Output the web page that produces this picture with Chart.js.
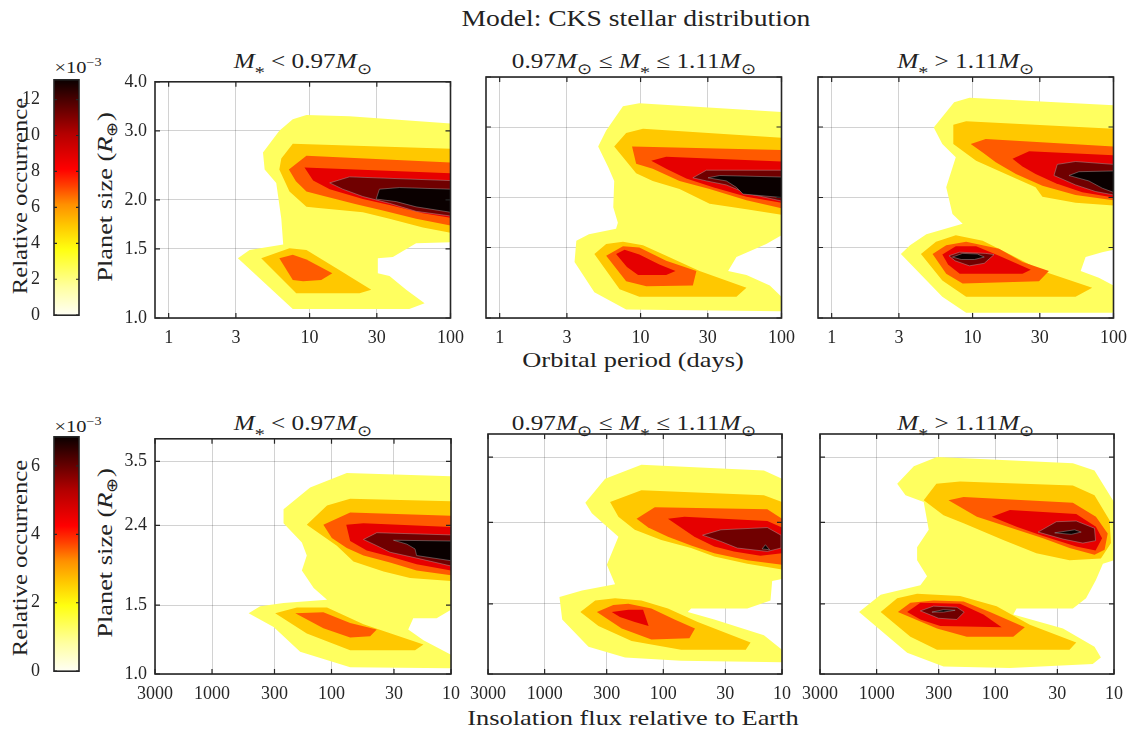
<!DOCTYPE html>
<html>
<head>
<meta charset="utf-8">
<script src="https://cdn.jsdelivr.net/npm/chart.js@4.4.0/dist/chart.umd.min.js"></script>
<style>
  body { margin: 0; background: #fff; }
  #fig { position: relative; width: 1135px; height: 732px; overflow: hidden; font-family: 'Liberation Serif', serif; color: #222; }
  #fig canvas { position: absolute; }
  .lbl { position: absolute; white-space: nowrap; line-height: 1; transform: translate(-50%, -50%) scaleX(1.2); }
  .lbl.rot { transform: translate(-50%, -50%) rotate(-90deg) scaleX(1.2); }
  .lbl.rot.narrow { transform: translate(-50%, -50%) rotate(-90deg) scaleX(1.12); }
  .lbl sub { font-size: 70%; vertical-align: -0.35em; line-height: 0; }
  .lbl sub.star { font-size: 80%; vertical-align: -0.55em; }
  .lbl sup { font-size: 70%; vertical-align: 0.55em; line-height: 0; }
</style>
</head>
<body>
<div id="fig">
  <div class="lbl" style="left:636px;top:18px;font-size:23px">Model: CKS stellar distribution</div>

  <div class="lbl" style="left:303px;top:62px;font-size:21px"><i>M</i><sub class="star">*</sub> &lt; 0.97<i>M</i><sub>⊙</sub></div>
  <div class="lbl" style="left:634px;top:62px;font-size:21px">0.97<i>M</i><sub>⊙</sub> ≤ <i>M</i><sub class="star">*</sub> ≤ 1.11<i>M</i><sub>⊙</sub></div>
  <div class="lbl" style="left:966px;top:62px;font-size:21px"><i>M</i><sub class="star">*</sub> &gt; 1.11<i>M</i><sub>⊙</sub></div>
  <div class="lbl" style="left:633px;top:360px;font-size:22px">Orbital period (days)</div>

  <div class="lbl" style="left:303px;top:424px;font-size:21px"><i>M</i><sub class="star">*</sub> &lt; 0.97<i>M</i><sub>⊙</sub></div>
  <div class="lbl" style="left:634px;top:424px;font-size:21px">0.97<i>M</i><sub>⊙</sub> ≤ <i>M</i><sub class="star">*</sub> ≤ 1.11<i>M</i><sub>⊙</sub></div>
  <div class="lbl" style="left:966px;top:424px;font-size:21px"><i>M</i><sub class="star">*</sub> &gt; 1.11<i>M</i><sub>⊙</sub></div>
  <div class="lbl" style="left:633px;top:718px;font-size:22px">Insolation flux relative to Earth</div>

  <div class="lbl rot narrow" style="left:20px;top:196px;font-size:22px">Relative occurrence</div>
  <div class="lbl rot narrow" style="left:20px;top:558px;font-size:22px">Relative occurrence</div>
  <div class="lbl rot" style="left:105px;top:197px;font-size:22px">Planet size (<i>R</i><sub>⊕</sub>)</div>
  <div class="lbl rot" style="left:105px;top:553px;font-size:22px">Planet size (<i>R</i><sub>⊕</sub>)</div>

  <div class="lbl" style="left:78px;top:67px;font-size:17px">×10<sup>−3</sup></div>
  <div class="lbl" style="left:78px;top:426px;font-size:17px">×10<sup>−3</sup></div>
</div>
<script>
// filled contour levels, lightest first
const levelColors = ['#ffff5f', '#ffc800', '#ff5a00', '#e60000', '#700000', '#0a0000'];

// colorbar ranges (x 1e-3)
const occurrenceMaxPeriod = 13.1;
const occurrenceMaxFlux = 6.85;
const occurrenceTicksPeriod = [0, 2, 4, 6, 8, 10, 12];
const occurrenceTicksFlux = [0, 2, 4, 6];

// axis ticks
const periodTicks = [1, 3, 10, 30, 100];
const fluxTicks = [3000, 1000, 300, 100, 30, 10];
const sizeTicksPeriod = [1.0, 1.5, 2.0, 3.0, 4.0];
const sizeTicksFlux = [1.0, 1.5, 2.4, 3.5];

// contour rings: [level, [[period (days), radius (R_earth)], ...]]
const periodLowMass = [
  [1, [[7.6,3.21],[9.5,3.29],[19.2,3.27],[100,3.13],[100,1.56],[57,1.55],[39,1.43],[30.5,1.42],[30.5,1.30],[36.9,1.28],[48.5,1.18],[65.5,1.09],[51,1.055],[7.6,1.055],[3.1,1.42],[3.75,1.49],[6.5,1.54],[6.3,1.79],[5.8,2.21],[4.8,2.39],[4.67,2.64],[6.1,3.0]]],
  [2, [[7.6,2.78],[100,2.70],[100,1.65],[63.7,1.70],[36.9,1.79],[23.9,1.86],[11.1,1.91],[9.5,1.92],[7.2,2.10],[6.1,2.39],[6.3,2.55]]],
  [2, [[4.54,1.42],[7.2,1.505],[9.5,1.49],[15.5,1.34],[27.4,1.18],[22.6,1.157],[8.04,1.157]]],
  [3, [[7.13,2.39],[9.5,2.59],[100,2.49],[100,1.72],[57,1.79],[33.1,1.88],[21.4,1.95],[12.4,2.05],[9.5,2.10],[8.0,2.23]]],
  [3, [[6.1,1.42],[7.6,1.45],[9.5,1.41],[14.5,1.30],[12.1,1.25],[9.0,1.24],[7.6,1.25]]],
  [4, [[9.2,2.42],[100,2.34],[100,1.80],[63.7,1.85],[36.9,1.94],[23.9,2.01],[13.9,2.13],[10.6,2.24]]],
  [5, [[13.9,2.21],[19.2,2.29],[100,2.24],[100,1.82],[57,1.87],[36.9,1.96],[23.9,2.04],[17.2,2.13]]],
  [6, [[29.7,2.01],[31.3,2.13],[43.5,2.15],[100,2.13],[100,1.86],[57,1.92],[41.2,1.98]]]
];

const periodMidMass = [
  [1, [[7.5,3.38],[9.8,3.44],[100,3.27],[100,1.61],[78,1.53],[47.9,1.42],[41.8,1.31],[56.4,1.28],[82.6,1.205],[100,1.13],[100,1.04],[7.9,1.05],[4.7,1.16],[3.4,1.38],[3.5,1.56],[4.3,1.62],[6.7,1.67],[6.9,1.73],[6.4,1.89],[6.5,2.20],[5.9,2.38],[5.0,2.68],[5.7,2.94]]],
  [2, [[6.5,2.68],[7.9,2.90],[10.4,2.97],[100,2.82],[100,1.81],[56.4,1.87],[30.9,1.93],[18.9,2.10],[12.2,2.20],[9.3,2.30]]],
  [2, [[4.7,1.445],[5.7,1.53],[7.5,1.55],[10.4,1.52],[15.2,1.43],[26.2,1.31],[56.4,1.19],[47.9,1.13],[9.8,1.13],[7.1,1.18]]],
  [3, [[8.7,2.68],[100,2.63],[100,1.88],[56.4,1.97],[30.9,2.10],[18.9,2.20],[12.2,2.36],[9.3,2.43]]],
  [3, [[5.7,1.43],[7.5,1.51],[9.8,1.50],[15.2,1.39],[24.9,1.31],[23.5,1.205],[11.0,1.20],[7.9,1.235]]],
  [4, [[11.9,2.47],[15.2,2.53],[100,2.46],[100,1.94],[56.4,2.01],[32.7,2.12],[21.1,2.23],[15.2,2.36]]],
  [4, [[6.7,1.445],[7.7,1.48],[9.8,1.44],[13.6,1.36],[17.7,1.31],[15.2,1.28],[9.6,1.28],[8.0,1.34]]],
  [5, [[23.5,2.24],[29.3,2.34],[100,2.34],[100,1.96],[56.4,2.05],[40.6,2.15],[29.3,2.20]]],
  [6, [[30.1,2.24],[36.5,2.27],[100,2.25],[100,2.0],[53.3,2.04],[47.9,2.12],[40.6,2.20]]]
];

const periodHighMass = [
  [1, [[7.4,3.46],[9.5,3.55],[100,3.40],[100,1.48],[83,1.46],[63.4,1.42],[58.5,1.31],[78.7,1.26],[100,1.205],[100,1.03],[9.0,1.03],[6.1,1.13],[3.1,1.445],[3.6,1.52],[4.7,1.62],[8.5,1.72],[7.2,1.82],[6.5,2.12],[7.6,2.52],[6.1,2.72],[5.3,2.99]]],
  [2, [[7.3,3.04],[9.0,3.10],[100,2.97],[100,1.91],[53.8,1.94],[31.3,2.01],[28.0,2.12],[17.2,2.29],[10.6,2.47],[7.3,2.72]]],
  [2, [[4.3,1.445],[5.5,1.55],[7.6,1.61],[11.8,1.56],[18.2,1.445],[31.3,1.31],[70.6,1.19],[53.8,1.13],[9.0,1.13],[6.1,1.24]]],
  [3, [[9.7,2.72],[12.4,2.80],[100,2.68],[100,1.97],[53.8,2.03],[31.3,2.14],[20.3,2.29],[14.6,2.45],[11.8,2.59]]],
  [3, [[5.2,1.445],[6.5,1.52],[9.0,1.55],[15.4,1.49],[22.6,1.38],[34.8,1.31],[29.6,1.235],[8.5,1.22],[6.5,1.29]]],
  [4, [[19.2,2.50],[25.2,2.61],[100,2.55],[100,2.00],[60,2.06],[38.9,2.17],[28.0,2.29],[22.6,2.39]]],
  [4, [[6.1,1.44],[7.6,1.51],[10.6,1.51],[15.4,1.43],[25.9,1.32],[22.6,1.29],[8.1,1.29],[6.7,1.36]]],
  [5, [[37.8,2.27],[39.9,2.42],[53.8,2.46],[100,2.42],[100,2.03],[74.6,2.07],[53.8,2.15]]],
  [5, [[6.8,1.43],[8.1,1.46],[12.4,1.45],[14.2,1.44],[12.1,1.37],[9.5,1.35],[7.5,1.39]]],
  [6, [[48.3,2.27],[56.9,2.32],[100,2.33],[100,2.06],[83.3,2.11],[66.8,2.20]]],
  [6, [[7.2,1.42],[8.5,1.45],[10.8,1.445],[12.1,1.42],[10.3,1.40],[8.3,1.40]]]
];

// contour rings: [level, [[insolation (S_earth), radius (R_earth)], ...]]
const fluxLowMass = [
  [1, [[252,2.64],[151,3.00],[74.5,3.27],[10,3.21],[10,1.46],[13.2,1.39],[20.7,1.39],[22.8,1.30],[17.0,1.22],[10,1.12],[10,1.035],[69.8,1.04],[183,1.14],[305,1.32],[494,1.43],[395,1.49],[252,1.52],[109,1.55],[141,1.66],[177,1.84],[161,2.01],[177,2.17],[252,2.43]]],
  [2, [[161,2.41],[109,2.70],[69.8,2.81],[10,2.77],[10,1.73],[22.0,1.76],[36.7,1.83],[65.5,1.94],[90.2,2.13]]],
  [2, [[296,1.43],[195,1.48],[109,1.48],[54,1.34],[17.0,1.19],[20,1.15],[69.8,1.15],[161,1.27]]],
  [3, [[117,2.41],[69.8,2.59],[10,2.54],[10,1.79],[19.4,1.84],[32.4,1.93],[54,2.01],[74.5,2.10],[99.4,2.23]]],
  [3, [[201,1.43],[117,1.44],[69.8,1.35],[41.8,1.30],[47.5,1.25],[69.8,1.24],[117,1.31]]],
  [4, [[75.3,2.41],[54,2.43],[10,2.38],[10,1.84],[19.4,1.91],[32.4,2.00],[50.7,2.07],[69.8,2.19]]],
  [5, [[54,2.21],[41.8,2.30],[10,2.27],[10,1.89],[19.4,1.98],[32.4,2.05],[41.8,2.13]]],
  [6, [[30.3,2.20],[10,2.19],[10,1.95],[19.4,2.01],[20.0,2.09],[23.4,2.15]]]
];

const fluxMidMass = [
  [1, [[454,2.69],[309,3.09],[153,3.35],[14.2,3.24],[10,3.09],[10,1.73],[12.1,1.71],[12.5,1.53],[19.6,1.46],[58.3,1.46],[62.2,1.43],[37.2,1.37],[14.2,1.25],[10,1.15],[10,1.07],[70.8,1.08],[210,1.10],[427,1.17],[711,1.37],[750,1.56],[484,1.62],[255,1.68],[299,1.88],[239,2.21],[400,2.53]]],
  [2, [[281,2.70],[153,2.89],[14.2,2.81],[10,2.70],[10,1.83],[19.6,1.89],[37.2,1.97],[58.3,2.07],[104,2.17],[174,2.30],[239,2.48]]],
  [2, [[500,1.43],[375,1.53],[255,1.55],[153,1.53],[91.4,1.46],[51.3,1.35],[18.4,1.20],[20.2,1.15],[70.8,1.15],[185,1.21],[352,1.32]]],
  [3, [[168,2.45],[118,2.62],[13.3,2.59],[10,2.45],[10,1.88],[19.6,1.93],[37.2,2.01],[58.3,2.10],[91.4,2.21],[134,2.33]]],
  [3, [[363,1.43],[264,1.49],[197,1.50],[126,1.46],[80.4,1.37],[54.1,1.30],[60.3,1.23],[126,1.22],[224,1.30]]],
  [4, [[91.4,2.45],[66.4,2.48],[13.3,2.42],[10,2.33],[10,2.01],[15.2,1.98],[25.4,2.03],[37.2,2.09],[54.7,2.21]]],
  [4, [[272,1.43],[197,1.45],[148,1.45],[133,1.32],[174,1.35],[232,1.39]]],
  [5, [[46.7,2.23],[32.7,2.30],[13.3,2.33],[10.2,2.23],[10.2,2.07],[13.3,2.03],[23.8,2.07],[32.7,2.15]]],
  [6, [[14.7,2.06],[13.8,2.11],[12.7,2.05]]]
];

const fluxHighMass = [
  [1, [[671,3.00],[486,3.32],[310,3.50],[22.2,3.38],[14.6,3.24],[10,2.70],[10,1.93],[12.4,1.89],[14.2,1.72],[17.2,1.55],[22.2,1.46],[66.2,1.46],[70.6,1.41],[26.9,1.30],[14.6,1.17],[12.9,1.10],[15.1,1.06],[75.3,1.035],[273,1.045],[553,1.13],[1406,1.43],[925,1.58],[428,1.67],[376,1.76],[456,1.93],[456,2.08],[364,2.30],[401,2.70],[571,2.81]]],
  [2, [[401,2.73],[314,3.00],[198,3.04],[22.2,2.97],[14.6,2.81],[10.9,2.43],[10.6,2.13],[12.9,1.95],[23.7,1.93],[45.1,2.01],[85.8,2.17],[185,2.39],[273,2.50]]],
  [2, [[925,1.43],[671,1.55],[456,1.59],[198,1.57],[97.5,1.48],[51.2,1.33],[20.8,1.20],[23.7,1.15],[97.5,1.15],[310,1.15],[519,1.24]]],
  [3, [[248,2.73],[185,2.78],[22.2,2.69],[14.2,2.48],[11.3,2.25],[12.0,2.05],[14.6,1.99],[23.7,2.07],[39.6,2.19],[75.3,2.33],[143,2.48]]],
  [3, [[662,1.43],[519,1.51],[331,1.53],[185,1.52],[111,1.43],[56.4,1.31],[70.6,1.24],[174,1.24],[310,1.30]]],
  [4, [[107,2.48],[75.3,2.58],[20.8,2.52],[14.2,2.34],[12.6,2.19],[14.3,2.04],[20.8,2.09],[39.6,2.22],[66.2,2.34]]],
  [4, [[553,1.43],[428,1.51],[198,1.50],[126,1.41],[88.4,1.31],[291,1.32],[428,1.37]]],
  [5, [[43.6,2.27],[30.6,2.41],[20.8,2.42],[14.6,2.32],[14.3,2.16],[18.3,2.13],[26.9,2.18]]],
  [5, [[428,1.44],[331,1.48],[211,1.47],[183,1.43],[211,1.37],[301,1.38]]],
  [6, [[31.6,2.26],[21.5,2.30],[18.9,2.27],[22.9,2.24]]],
  [6, [[342,1.43],[273,1.45],[218,1.445],[273,1.43]]]
];

const INK = '#262626';
const TICK_FONT = { family: "'Liberation Serif', serif", size: 18 };

// fills every dataset as a closed polygon through its positioned points;
// the darkest levels get a faint edge line
const contourFill = {
  id: 'contourFill',
  beforeDatasetsDraw(chart) {
    const { ctx, chartArea: a } = chart;
    ctx.save();
    ctx.beginPath();
    ctx.rect(a.left, a.top, a.width, a.height);
    ctx.clip();
    chart.data.datasets.forEach((ds, i) => {
      const pts = chart.getDatasetMeta(i).data;
      ctx.beginPath();
      pts.forEach((p, j) => (j ? ctx.lineTo(p.x, p.y) : ctx.moveTo(p.x, p.y)));
      ctx.closePath();
      ctx.fillStyle = ds.backgroundColor;
      ctx.fill();
      if (ds.level >= 5) {
        ctx.strokeStyle = 'rgba(170,170,170,0.55)';
        ctx.lineWidth = 0.8;
        ctx.stroke();
      }
    });
    ctx.restore();
  }
};

// box around the axes plus inward tick marks
const axesFrame = {
  id: 'axesFrame',
  afterDraw(chart, args, opts) {
    const { ctx, chartArea: a, scales } = chart;
    const len = opts.tickLength || 5;
    ctx.save();
    ctx.strokeStyle = INK;
    ctx.lineWidth = 1.2;
    ctx.beginPath();
    if (opts.xTicks) {
      scales.x.ticks.forEach(t => {
        const px = scales.x.getPixelForValue(t.value);
        ctx.moveTo(px, a.bottom); ctx.lineTo(px, a.bottom - len);
        ctx.moveTo(px, a.top); ctx.lineTo(px, a.top + len);
      });
    }
    if (opts.yTicks) {
      scales.y.ticks.forEach(t => {
        const py = scales.y.getPixelForValue(t.value);
        ctx.moveTo(a.left, py); ctx.lineTo(a.left + len, py);
        ctx.moveTo(a.right, py); ctx.lineTo(a.right - len, py);
      });
    }
    ctx.stroke();
    ctx.lineWidth = 1.6;
    ctx.strokeRect(a.left, a.top, a.width, a.height);
    ctx.restore();
  }
};

function makeCanvas(left, top, w, h) {
  const c = document.createElement('canvas');
  c.width = w; c.height = h;
  c.style.left = left + 'px'; c.style.top = top + 'px';
  c.style.width = w + 'px'; c.style.height = h + 'px';
  document.getElementById('fig').appendChild(c);
  return c;
}

function panelChart(rings, box, axis) {
  const padL = box.showY ? 45 : 25, padR = 22, padT = 14, padB = 32;
  const canvas = makeCanvas(box.left - padL, box.top - padT, box.width + padL + padR, box.height + padT + padB);
  const grid = { color: 'rgba(30,30,30,0.2)', lineWidth: 1, drawTicks: false };
  return new Chart(canvas, {
    type: 'scatter',
    data: {
      datasets: rings.map(([lvl, ring]) => ({
        data: ring.map(([x, y]) => ({ x, y })),
        level: lvl,
        backgroundColor: levelColors[lvl - 1],
        pointRadius: 0, pointHoverRadius: 0, showLine: false
      }))
    },
    plugins: [contourFill, axesFrame],
    options: {
      responsive: false, animation: false, events: [],
      layout: { padding: { left: 0, right: padR, top: padT, bottom: 0 } },
      plugins: { legend: { display: false }, tooltip: { enabled: false }, axesFrame: { xTicks: true, yTicks: true } },
      scales: {
        x: {
          type: 'logarithmic', min: axis.xMin, max: axis.xMax, reverse: axis.reverse, z: 1,
          grid, border: { display: false },
          ticks: { font: TICK_FONT, color: INK, padding: 9, autoSkip: false, maxRotation: 0, minRotation: 0, callback: v => String(v) },
          afterBuildTicks: s => { s.ticks = axis.xTicks.map(v => ({ value: v })); },
          afterFit: s => { s.height = padB; }
        },
        y: {
          type: 'logarithmic', min: 1, max: 4, z: 1,
          grid, border: { display: false },
          ticks: { display: box.showY, font: TICK_FONT, color: INK, padding: 8, autoSkip: false, callback: v => v.toFixed(1) },
          afterBuildTicks: s => { s.ticks = axis.yTicks.map(v => ({ value: v })); },
          afterFit: s => { s.width = padL; }
        }
      }
    }
  });
}

// white -> yellow -> orange -> red -> black
function occurrenceGradient(chart) {
  const a = chart.chartArea;
  if (!a) return '#ffff00';
  const g = chart.ctx.createLinearGradient(0, a.bottom, 0, a.top);
  [[0, '#fffff5'], [0.12, '#ffffa0'], [0.28, '#ffff10'], [0.38, '#ffc800'], [0.47, '#ff9000'],
   [0.55, '#ff4000'], [0.62, '#ff0000'], [0.77, '#b40000'], [0.92, '#460000'], [1, '#0a0000']]
    .forEach(([o, c]) => g.addColorStop(o, c));
  return g;
}

function colorbarChart(maxVal, ticks, box) {
  const padL = 42, padR = 4, padT = 14, padB = 14;
  const canvas = makeCanvas(box.left - padL, box.top - padT, box.width + padL + padR, box.height + padT + padB);
  return new Chart(canvas, {
    type: 'bar',
    data: {
      labels: [''],
      datasets: [{ data: [maxVal], backgroundColor: c => occurrenceGradient(c.chart), borderWidth: 0, barPercentage: 1, categoryPercentage: 1 }]
    },
    plugins: [axesFrame],
    options: {
      responsive: false, animation: false, events: [],
      layout: { padding: { left: 0, right: padR, top: padT, bottom: padB } },
      plugins: { legend: { display: false }, tooltip: { enabled: false }, axesFrame: { xTicks: false, yTicks: true, tickLength: 3 } },
      scales: {
        x: { display: false },
        y: {
          min: 0, max: maxVal,
          grid: { display: false }, border: { display: false },
          ticks: { font: TICK_FONT, color: INK, padding: 6, autoSkip: false },
          afterBuildTicks: s => { s.ticks = ticks.map(v => ({ value: v })); },
          afterFit: s => { s.width = padL; }
        }
      }
    }
  });
}

const periodAxis = { xMin: 0.8, xMax: 100, reverse: false, xTicks: periodTicks, yTicks: sizeTicksPeriod };
const fluxAxis = { xMin: 10, xMax: 3000, reverse: true, xTicks: fluxTicks, yTicks: sizeTicksFlux };

const cols = [155, 486, 818];
const topRow = { top: 77, height: 241 };
const bottomRow = { top: 434, height: 240 };

[periodLowMass, periodMidMass, periodHighMass].forEach((rings, i) =>
  panelChart(rings, { left: cols[i], width: 296, top: topRow.top, height: topRow.height, showY: i === 0 }, periodAxis));
[fluxLowMass, fluxMidMass, fluxHighMass].forEach((rings, i) =>
  panelChart(rings, { left: cols[i], width: 296, top: bottomRow.top, height: bottomRow.height, showY: i === 0 }, fluxAxis));

colorbarChart(occurrenceMaxPeriod, occurrenceTicksPeriod, { left: 54, width: 25, top: topRow.top, height: topRow.height });
colorbarChart(occurrenceMaxFlux, occurrenceTicksFlux, { left: 54, width: 25, top: bottomRow.top, height: bottomRow.height });
</script>
</body>
</html>
